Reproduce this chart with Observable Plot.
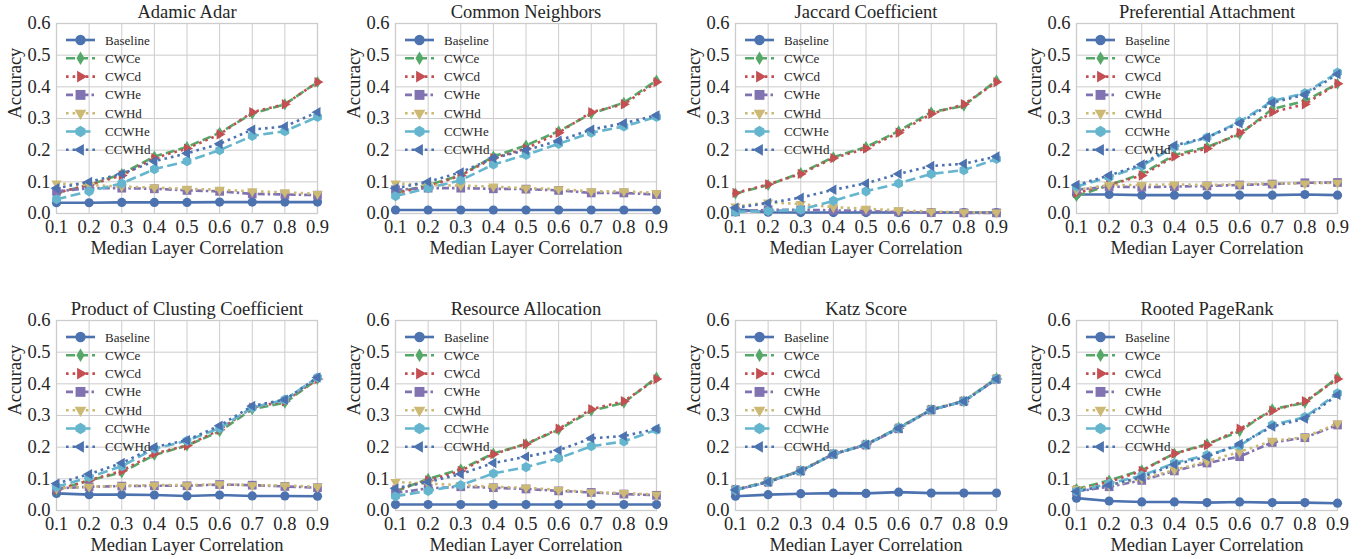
<!DOCTYPE html>
<html><head><meta charset="utf-8">
<script src="https://cdn.jsdelivr.net/npm/d3@7"></script>
<script src="https://cdn.jsdelivr.net/npm/@observablehq/plot@0.6"></script>
<style>
body{margin:0;background:#fff;}
#root{position:relative;width:1368px;height:559px;overflow:hidden;background:#fff;}
.panel{position:absolute;}
.panel svg, .panel svg text{font-family:"Liberation Serif","Times New Roman",Times,serif !important;}
</style></head><body><div id="root"></div>
<script>
// ---------- data ----------
const xValues = [0.1, 0.2, 0.3, 0.4, 0.5, 0.6, 0.7, 0.8, 0.9];
const xTicks = [0.1, 0.2, 0.3, 0.4, 0.5, 0.6, 0.7, 0.8, 0.9];
const yTicks = [0.0, 0.1, 0.2, 0.3, 0.4, 0.5, 0.6];
const seriesNames = ["Baseline", "CWCe", "CWCd", "CWHe", "CWHd", "CCWHe", "CCWHd"];
const panelTitles = ["Adamic Adar", "Common Neighbors", "Jaccard Coefficient", "Preferential Attachment",
  "Product of Clusting Coefficient", "Resource Allocation", "Katz Score", "Rooted PageRank"];
const xLabel = "Median Layer Correlation";
const yLabel = "Accuracy";

// rows in seriesNames order
const adamicAdar = [
  [0.034, 0.034, 0.035, 0.035, 0.035, 0.036, 0.036, 0.036, 0.036],
  [0.065, 0.090, 0.125, 0.180, 0.210, 0.255, 0.315, 0.345, 0.415],
  [0.065, 0.090, 0.120, 0.175, 0.205, 0.250, 0.320, 0.345, 0.415],
  [0.070, 0.080, 0.080, 0.078, 0.073, 0.070, 0.062, 0.060, 0.058],
  [0.095, 0.090, 0.085, 0.082, 0.078, 0.075, 0.070, 0.067, 0.062],
  [0.045, 0.070, 0.095, 0.140, 0.165, 0.200, 0.245, 0.260, 0.305],
  [0.080, 0.100, 0.125, 0.165, 0.190, 0.220, 0.265, 0.275, 0.320]
];
const commonNeighbors = [
  [0.011, 0.011, 0.011, 0.011, 0.011, 0.011, 0.011, 0.011, 0.011],
  [0.065, 0.090, 0.120, 0.180, 0.215, 0.260, 0.315, 0.350, 0.420],
  [0.065, 0.085, 0.120, 0.175, 0.205, 0.255, 0.320, 0.345, 0.415],
  [0.075, 0.080, 0.080, 0.078, 0.077, 0.073, 0.065, 0.065, 0.060],
  [0.095, 0.090, 0.088, 0.085, 0.080, 0.077, 0.070, 0.070, 0.065],
  [0.055, 0.080, 0.105, 0.155, 0.185, 0.220, 0.255, 0.275, 0.305],
  [0.080, 0.100, 0.130, 0.175, 0.200, 0.230, 0.265, 0.285, 0.310]
];
const jaccardCoefficient = [
  [0.013, 0.004, 0.003, 0.003, 0.003, 0.003, 0.003, 0.003, 0.003],
  [0.063, 0.090, 0.128, 0.178, 0.210, 0.260, 0.320, 0.340, 0.420],
  [0.065, 0.092, 0.125, 0.175, 0.205, 0.255, 0.315, 0.345, 0.415],
  [0.005, 0.012, 0.012, 0.010, 0.008, 0.005, 0.003, 0.002, 0.002],
  [0.022, 0.035, 0.030, 0.020, 0.015, 0.010, 0.006, 0.004, 0.003],
  [0.005, 0.008, 0.012, 0.040, 0.070, 0.095, 0.125, 0.137, 0.172],
  [0.018, 0.033, 0.050, 0.075, 0.095, 0.125, 0.150, 0.157, 0.180]
];
const preferentialAttachment = [
  [0.060, 0.060, 0.058, 0.058, 0.058, 0.058, 0.058, 0.060, 0.058],
  [0.055, 0.090, 0.125, 0.185, 0.210, 0.250, 0.330, 0.355, 0.410],
  [0.065, 0.090, 0.120, 0.180, 0.205, 0.255, 0.320, 0.345, 0.410],
  [0.075, 0.085, 0.083, 0.085, 0.087, 0.090, 0.093, 0.097, 0.098],
  [0.075, 0.090, 0.090, 0.092, 0.090, 0.092, 0.095, 0.095, 0.097],
  [0.085, 0.115, 0.150, 0.210, 0.240, 0.290, 0.355, 0.380, 0.445],
  [0.090, 0.120, 0.155, 0.215, 0.240, 0.285, 0.350, 0.375, 0.440]
];
const productClustering = [
  [0.054, 0.050, 0.050, 0.049, 0.046, 0.049, 0.046, 0.046, 0.045],
  [0.065, 0.095, 0.120, 0.175, 0.205, 0.250, 0.320, 0.340, 0.415],
  [0.065, 0.095, 0.125, 0.180, 0.205, 0.255, 0.325, 0.345, 0.415],
  [0.070, 0.075, 0.077, 0.078, 0.078, 0.082, 0.080, 0.076, 0.072],
  [0.070, 0.075, 0.078, 0.080, 0.080, 0.083, 0.080, 0.079, 0.075],
  [0.075, 0.105, 0.140, 0.195, 0.220, 0.260, 0.325, 0.350, 0.420],
  [0.085, 0.115, 0.150, 0.200, 0.222, 0.268, 0.330, 0.350, 0.420]
];
const resourceAllocation = [
  [0.019, 0.019, 0.019, 0.019, 0.019, 0.019, 0.019, 0.019, 0.019],
  [0.060, 0.100, 0.130, 0.180, 0.210, 0.255, 0.315, 0.340, 0.420],
  [0.065, 0.095, 0.125, 0.178, 0.210, 0.258, 0.320, 0.345, 0.415],
  [0.055, 0.070, 0.075, 0.072, 0.068, 0.062, 0.057, 0.052, 0.048],
  [0.090, 0.085, 0.080, 0.075, 0.072, 0.065, 0.058, 0.055, 0.050],
  [0.045, 0.062, 0.080, 0.117, 0.137, 0.165, 0.203, 0.218, 0.255],
  [0.070, 0.090, 0.115, 0.150, 0.170, 0.190, 0.228, 0.235, 0.258]
];
const katzScore = [
  [0.045, 0.050, 0.053, 0.055, 0.054, 0.058, 0.055, 0.055, 0.055],
  [0.065, 0.092, 0.125, 0.178, 0.208, 0.262, 0.318, 0.345, 0.418],
  [0.066, 0.090, 0.126, 0.178, 0.208, 0.260, 0.318, 0.345, 0.415],
  [0.065, 0.090, 0.125, 0.178, 0.207, 0.258, 0.318, 0.345, 0.415],
  [0.066, 0.092, 0.127, 0.180, 0.208, 0.260, 0.320, 0.347, 0.418],
  [0.065, 0.090, 0.125, 0.178, 0.208, 0.260, 0.318, 0.345, 0.415],
  [0.065, 0.090, 0.125, 0.178, 0.208, 0.260, 0.318, 0.345, 0.415]
];
const rootedPageRank = [
  [0.039, 0.030, 0.027, 0.027, 0.025, 0.027, 0.025, 0.025, 0.023],
  [0.068, 0.095, 0.127, 0.180, 0.210, 0.250, 0.320, 0.340, 0.420],
  [0.065, 0.090, 0.125, 0.180, 0.207, 0.258, 0.315, 0.345, 0.415],
  [0.060, 0.075, 0.095, 0.125, 0.150, 0.170, 0.215, 0.230, 0.270],
  [0.068, 0.080, 0.100, 0.128, 0.155, 0.185, 0.220, 0.232, 0.275],
  [0.060, 0.085, 0.110, 0.150, 0.175, 0.205, 0.270, 0.295, 0.370],
  [0.060, 0.080, 0.105, 0.145, 0.170, 0.210, 0.265, 0.290, 0.365]
];
const panelValues = [adamicAdar, commonNeighbors, jaccardCoefficient, preferentialAttachment,
  productClustering, resourceAllocation, katzScore, rootedPageRank];

// ---------- styles ----------
const colors = ["#4C72B0", "#55A868", "#C44E52", "#8172B2", "#CCB974", "#64B5CD", "#4C72B0"];
const dashes = [null, "9,4", "2.6,4", "7,3,2.5,3", "2.6,4", "10,4.5", "2.6,4"];
const FONT = "Liberation Serif, Times New Roman, serif";
const INK = "#262626";
const GRID = "#cccccc";

const rOf = s => Math.sqrt(s / Math.PI);
const symCircle = d3.symbolCircle;
const symThinDiamond = {draw(c, s) { const r = rOf(s) * 1.3; c.moveTo(0, -r); c.lineTo(r * 0.6, 0); c.lineTo(0, r); c.lineTo(-r * 0.6, 0); c.closePath(); }};
const symTriRight = {draw(c, s) { const r = rOf(s) * 1.3; c.moveTo(r, 0); c.lineTo(-r * 0.5, -r * 0.866); c.lineTo(-r * 0.5, r * 0.866); c.closePath(); }};
const symTriLeft = {draw(c, s) { const r = rOf(s) * 1.3; c.moveTo(-r, 0); c.lineTo(r * 0.5, -r * 0.866); c.lineTo(r * 0.5, r * 0.866); c.closePath(); }};
const symTriDown = {draw(c, s) { const r = rOf(s) * 1.3; c.moveTo(0, r); c.lineTo(-r * 0.866, -r * 0.5); c.lineTo(r * 0.866, -r * 0.5); c.closePath(); }};
const symSquare = {draw(c, s) { const h = rOf(s) * 0.95; c.rect(-h, -h, 2 * h, 2 * h); }};
const symHex = {draw(c, s) { const r = rOf(s) * 1.1; for (let k = 0; k < 6; k++) { const a = Math.PI / 2 + k * Math.PI / 3; const px = r * Math.cos(a), py = -r * Math.sin(a); if (k === 0) c.moveTo(px, py); else c.lineTo(px, py); } c.closePath(); }};
const symbols = [symCircle, symThinDiamond, symTriRight, symSquare, symTriDown, symHex, symTriLeft];

// ---------- layout ----------
const colLeft = [0, 339, 679, 1020];
const rowTop = [0, 297];
const W = 342, H = 268, ML = 56, MR = 25, MT = 23, MB = 55;
const R = 4.6;

function makePanel(title, rows) {
  const marks = [
    Plot.ruleX(xTicks, {x: d => d, stroke: GRID, strokeWidth: 1}),
    Plot.ruleY(yTicks, {y: d => d, stroke: GRID, strokeWidth: 1}),
    Plot.frame({stroke: GRID, strokeWidth: 1.3})
  ];
  seriesNames.forEach((name, i) => {
    const pts = xValues.map((x, j) => ({x, y: rows[i][j]}));
    marks.push(Plot.line(pts, {x: "x", y: "y", stroke: colors[i], strokeWidth: 2.6,
      strokeDasharray: dashes[i] || undefined, strokeLinecap: "butt", strokeLinejoin: "round"}));
    marks.push(Plot.dot(pts, {x: "x", y: "y", symbol: () => symbols[i], r: R, fill: colors[i], stroke: "none"}));
  });
  marks.push(Plot.text([title], {text: d => d, frameAnchor: "top", lineAnchor: "middle", dy: -11, fontSize: 18.5, fill: INK}));
  marks.push(Plot.text([xLabel], {text: d => d, frameAnchor: "bottom", lineAnchor: "middle", dy: 35, fontSize: 18.5, fill: INK}));
  marks.push(Plot.text([yLabel], {text: d => d, frameAnchor: "left", lineAnchor: "middle", dx: -41, rotate: -90, fontSize: 18.5, fill: INK}));
  const p = Plot.plot({
    width: W, height: H, marginLeft: ML, marginRight: MR, marginTop: MT, marginBottom: MB,
    style: {fontFamily: FONT, fontSize: "18.5px", color: INK, background: "transparent", overflow: "visible"},
    x: {domain: [0.1, 0.9], ticks: xTicks, tickFormat: d => d.toFixed(1), tickSize: 0, tickPadding: 6, label: null},
    y: {domain: [0, 0.6], ticks: yTicks, tickFormat: d => d.toFixed(1), tickSize: 0, tickPadding: 6, label: null},
    symbol: {type: "identity"},
    marks
  });
  // legend (inside top-left of the frame, no box)
  const svg = d3.select(p.tagName.toLowerCase() === "svg" ? p : p.querySelector("svg"));
  const g = svg.append("g").attr("transform", `translate(${ML},${MT})`).attr("text-anchor", "start");
  seriesNames.forEach((name, i) => {
    const yy = 17 + i * 18.3;
    const ln = g.append("line").attr("x1", 10).attr("x2", 39).attr("y1", yy).attr("y2", yy)
      .attr("stroke", colors[i]).attr("stroke-width", 2.6).attr("stroke-linecap", "butt");
    if (dashes[i]) ln.attr("stroke-dasharray", dashes[i]);
    g.append("path").attr("d", d3.symbol(symbols[i], Math.PI * 5.2 * 5.2)())
      .attr("transform", `translate(24.5,${yy})`).attr("fill", colors[i]);
    g.append("text").attr("x", 49).attr("y", yy).attr("dy", "0.35em").attr("font-size", 13)
      .attr("text-anchor", "start").attr("fill", INK).text(name);
  });
  return p;
}

const root = document.getElementById("root");
panelTitles.forEach((t, k) => {
  const div = document.createElement("div");
  div.className = "panel";
  div.style.left = colLeft[k % 4] + "px";
  div.style.top = rowTop[Math.floor(k / 4)] + "px";
  div.appendChild(makePanel(t, panelValues[k]));
  root.appendChild(div);
});
</script></body></html>
